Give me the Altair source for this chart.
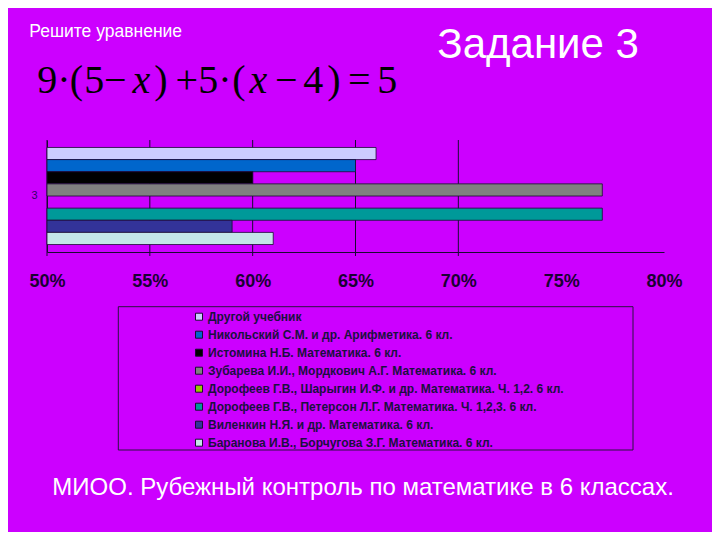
import altair as alt
import pandas as pd

# ---- data ----
series = [
    "Другой учебник",
    "Никольский С.М. и др. Арифметика. 6 кл.",
    "Истомина Н.Б. Математика. 6 кл.",
    "Зубарева И.И., Мордкович А.Г. Математика. 6 кл.",
    "Дорофеев Г.В., Шарыгин И.Ф. и др. Математика. Ч. 1,2. 6 кл.",
    "Дорофеев Г.В., Петерсон Л.Г. Математика. Ч. 1,2,3. 6 кл.",
    "Виленкин Н.Я. и др. Математика. 6 кл.",
    "Баранова И.В., Борчугова З.Г. Математика. 6 кл.",
]
values = [0.66, 0.65, 0.60, 0.77, None, 0.77, 0.59, 0.61]
colors = ["#CCCCFF", "#0066CC", "#000000", "#808080", "#99CC00",
          "#009999", "#333399", "#C4E4E8"]
category = "3"
tick_values = [0.50, 0.55, 0.60, 0.65, 0.70, 0.75, 0.80]
grid_values = [0.50, 0.55, 0.60, 0.65, 0.70]

title_small = "Решите уравнение"
title_big = "Задание 3"
footer = "МИОО. Рубежный контроль по математике в 6 классах."
formula_tokens = ["9·", "(", "5", "−", "x", ")", "+", "5·", "(", "x", "−", "4", ")", "=", "5"]
formula_italic = [t == "x" for t in formula_tokens]

bars_df = pd.DataFrame({"series": series, "value": values, "cat": [category] * len(series)})
grid_df = pd.DataFrame({"v": grid_values})
one = pd.DataFrame({"a": [0]})

W, H = 617, 112
AX = "#1a0a33"

x_scale = alt.Scale(domain=[0.5, 0.8], zero=False, nice=False)
x_axis = alt.Axis(values=tick_values, format=".0%", ticks=False, grid=False,
                  domainColor=AX, labelColor="#1a0033", labelFont="Liberation Sans",
                  labelFontSize=18, labelFontWeight="bold", labelPadding=20,
                  labelFlush=False, labelOverlap=False, title=None)

bars = alt.Chart(bars_df).mark_bar(stroke="#1a0a33", strokeWidth=0.8).encode(
    x=alt.X("value:Q", scale=x_scale, axis=x_axis),
    x2=alt.datum(0.5),
    y=alt.Y("cat:N", scale=alt.Scale(paddingOuter=0.077, paddingInner=0),
            axis=alt.Axis(title=None, ticks=False, domainColor=AX, labelColor="#330066",
                          labelFont="Liberation Sans", labelFontSize=11, labelPadding=10,
                          labelAngle=0)),
    yOffset=alt.YOffset("series:N", scale=alt.Scale(domain=series, paddingInner=0, paddingOuter=0)),
    color=alt.Color("series:N", scale=alt.Scale(domain=series, range=colors),
                    legend=alt.Legend(orient="none", legendX=146, legendY=170.7, title=None,
                                      symbolType="square", symbolSize=49,
                                      symbolStrokeColor="#1a0a33", symbolStrokeWidth=1,
                                      labelFont="Liberation Sans", labelFontSize=12,
                                      labelFontWeight="bold", labelColor="#1a1040",
                                      labelLimit=600, rowPadding=6, padding=0,
                                      labelOffset=3)),
)

grid = alt.Chart(grid_df).mark_rule(color=AX, strokeWidth=1).encode(
    x=alt.X("v:Q", scale=x_scale, axis=x_axis),
    y=alt.value(0),
    y2=alt.value(H + 4),
)

legend_box = alt.Chart(one).mark_rect(fill=None, stroke="#2a1040", strokeWidth=1).encode(
    x=alt.value(71.3), x2=alt.value(586), y=alt.value(166.7), y2=alt.value(310)
)

OX, OY = 46.7, 140.0  # plot-area origin on the page


def label(text, x, y, size, color="white", font="Liberation Sans", style="normal", align="left"):
    return alt.Chart(one).mark_text(text=text, align=align, baseline="alphabetic",
                                    font=font, fontSize=size, color=color,
                                    fontStyle=style).encode(x=alt.value(x - OX), y=alt.value(y - OY))


layers = [legend_box, grid, bars,
          label(title_small, 29, 36.7, 17.5),
          label(title_big, 437, 57.5, 42),
          label(footer, 52, 495, 24)]

# formula tokens placed as in the reference
token_pos = [(37, "left"), (76, "center"), (94, "center"), (115, "center"), (141, "center"),
             (160.5, "center"), (186.4, "center"), (198, "left"), (238.5, "center"),
             (258, "center"), (286, "center"), (313, "center"), (333.5, "center"),
             (359, "center"), (387, "center")]
for tok, it, (px, al) in zip(formula_tokens, formula_italic, token_pos):
    layers.append(label(tok, px, 92.5, 40, color="black", font="Liberation Serif",
                        style="italic" if it else "normal", align=al))

chart = alt.layer(*layers).properties(
    width=W, height=H, autosize="none",
    padding={"left": 39, "top": 132, "right": 48, "bottom": 280},
).configure(background="#CC00FF").configure_view(stroke=None)

chart.save("out.html", embed_options={"renderer": "svg", "actions": False})
